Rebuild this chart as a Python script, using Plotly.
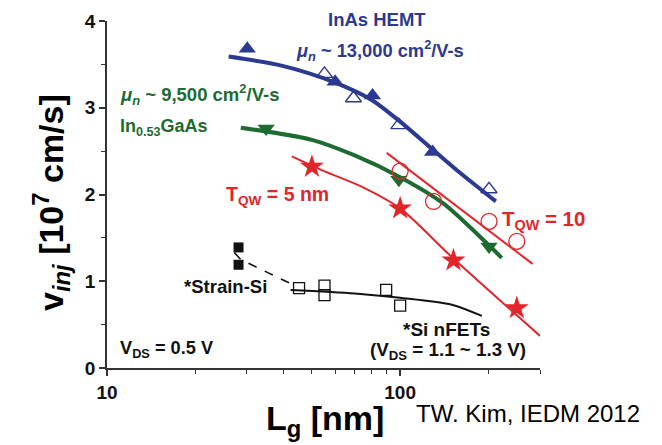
import plotly.graph_objects as go

# ---------------- data ----------------
# InAs HEMT
inas_fill_L = [30.1, 60, 80.5, 129]
inas_fill_v = [3.68, 3.30, 3.14, 2.49]
inas_open_L = [55.2, 69.3, 99, 201]
inas_open_v = [3.39, 3.11, 2.80, 2.06]
inas_fit_L = [26, 40, 60, 80, 100, 130, 160, 212]
inas_fit_v = [3.59, 3.48, 3.29, 3.09, 2.84, 2.51, 2.25, 1.92]

# In0.53GaAs
ingaas_L = [34.9, 99, 201]
ingaas_v = [2.76, 2.17, 1.40]
ingaas_fit_L = [28.6, 50, 70, 100, 140, 200, 222]
ingaas_fit_v = [2.77, 2.63, 2.45, 2.20, 1.90, 1.42, 1.27]

# T_QW = 5 nm
tqw5_L = [50, 100, 152, 250]
tqw5_v = [2.32, 1.84, 1.24, 0.69]
tqw5_fit_L = [42.7, 55, 75, 100, 150, 300]
tqw5_fit_v = [2.44, 2.27, 2.08, 1.84, 1.28, 0.37]

# T_QW = 10 nm
tqw10_L = [100, 130, 201, 250]
tqw10_v = [2.27, 1.92, 1.69, 1.46]
tqw10_fit_L = [90, 283]
tqw10_fit_v = [2.48, 1.20]

# Strained Si (filled squares) and Si nFETs (open squares)
ssi_L = [28.1, 28.1]
ssi_v = [1.39, 1.19]
ssi_dash_L = [27.2, 28.6, 43.7]
ssi_dash_v = [1.33, 1.25, 0.95]
si_L = [45.2, 55.2, 55.2, 89.6, 100]
si_v = [0.92, 0.95, 0.84, 0.90, 0.72]
si_fit_L = [42.3, 70, 100, 150, 190]
si_fit_v = [0.90, 0.86, 0.81, 0.73, 0.60]

x_tick_vals = [10, 100]
x_tick_text = ["10", "100"]
x_minor_vals = [20, 30, 40, 50, 60, 70, 80, 90, 200, 300]
y_tick_vals = [0, 1, 2, 3, 4]

# ---------------- styles ----------------
BLUE = "#2b3990"
GREEN = "#1d6b31"
RED = "#e1262b"
BLACK = "#111111"
FONT = "Liberation Sans, Arial, sans-serif"

fig = go.Figure()

def line(x, y, color, width, dash="solid", shape="spline"):
    fig.add_trace(go.Scatter(x=x, y=y, mode="lines",
                             line=dict(color=color, width=width, dash=dash, shape=shape, smoothing=0.8),
                             showlegend=False, hoverinfo="skip"))

def pts(x, y, symbol, color, size, lw=0):
    fig.add_trace(go.Scatter(
        x=x, y=y, mode="markers", showlegend=False,
        marker=dict(symbol=symbol, size=size, color=color, line=dict(color=color, width=lw))))

line(inas_fit_L, inas_fit_v, BLUE, 4)
line(ingaas_fit_L, ingaas_fit_v, GREEN, 4)
line(tqw5_fit_L, tqw5_fit_v, RED, 2)
line(tqw10_fit_L, tqw10_fit_v, RED, 2, shape="linear")
line(si_fit_L, si_fit_v, BLACK, 2)
line(ssi_dash_L, ssi_dash_v, BLACK, 1.6, dash="dash", shape="linear")

pts(inas_open_L, inas_open_v, "triangle-up-open", BLUE, 14, lw=1.4)
pts(inas_fill_L, inas_fill_v, "triangle-up", BLUE, 15)
pts(ingaas_L, ingaas_v, "triangle-down", GREEN, 15)
pts(tqw5_L, tqw5_v, "star", RED, 18)
pts(tqw10_L, tqw10_v, "circle-open", RED, 16, lw=1.3)
pts(si_L, si_v, "square-open", BLACK, 11, lw=1.3)
pts(ssi_L, ssi_v, "square", BLACK, 10)

# ---------------- layout ----------------
L, R, T, B = 107, 540, 21, 368
W, H = R - L, B - T

def px(x):
    return (x - L) / W

def py(y):
    return (B - y) / H

def note(text, x, y, color, size=18, bold=True, xanchor="left", angle=0):
    fig.add_annotation(text=f"<b>{text}</b>" if bold else text, x=px(x), y=py(y),
                       xref="paper", yref="paper", xanchor=xanchor, yanchor="middle",
                       showarrow=False, textangle=angle,
                       font=dict(family=FONT, size=size, color=color))

note("InAs HEMT", 377, 20, BLUE, size=18.5, xanchor="center")
note("<i>μ<sub>n</sub></i> ~ 13,000 cm<sup>2</sup>/V-s", 294, 50, BLUE, size=18.3)
note("<i>μ<sub>n</sub></i> ~ 9,500 cm<sup>2</sup>/V-s", 118, 95, GREEN, size=18.5)
note("In<sub>0.53</sub>GaAs", 118, 127, GREEN, size=18)
note("T<sub>QW</sub> = 5 nm", 224, 195, RED, size=19.5)
note("T<sub>QW</sub> = 10", 500, 220, RED, size=20.5)
note("*Strain-Si", 182, 286, BLACK, size=18.5)
note("*Si nFETs", 401, 329, BLACK, size=19)
note("(V<sub>DS</sub> = 1.1 ~ 1.3 V)", 368, 351, BLACK, size=18.8)
note("V<sub>DS</sub> = 0.5 V", 118, 349, BLACK, size=18.2)
note("TW. Kim, IEDM 2012", 414, 413, "#000000", size=24, bold=False)
note("L<sub>g</sub> [nm]", 325, 420, "#000000", size=34, xanchor="center")
note("v<sub><i>inj</i></sub> [10<sup>7</sup> cm/s]", 51, 202, "#000000", size=34, xanchor="center", angle=-90)

axis_common = dict(showline=True, linecolor="#333333", linewidth=1.5, showgrid=False, zeroline=False,
                   ticks="outside", ticklen=6, tickwidth=1.5, tickcolor="#333333",
                   tickfont=dict(family=FONT, size=19, color="#111111", weight="bold"))

fig.update_layout(
    width=662, height=445,
    margin=dict(l=L, r=662 - R, t=T, b=445 - B, pad=0),
    paper_bgcolor="white", plot_bgcolor="white",
    showlegend=False,
    xaxis=dict(type="log", range=[1, 2.4771], tickvals=x_tick_vals, ticktext=x_tick_text,
               minor=dict(tickvals=x_minor_vals, ticks="outside", ticklen=4, tickwidth=1.2, tickcolor="#333333"),
               **axis_common),
    yaxis=dict(range=[0, 4], tickvals=y_tick_vals,
               minor=dict(dtick=0.5, ticks="outside", ticklen=4, tickwidth=1.2, tickcolor="#333333"),
               **axis_common),
)

fig.write_html("out.html", config={"displayModeBar": False},
               post_script="document.body.style.margin='0';document.body.style.overflow='hidden';")
